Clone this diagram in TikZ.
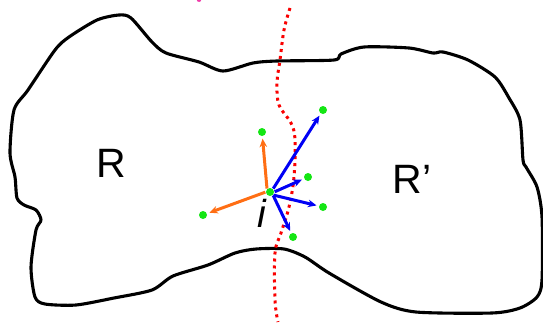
\documentclass[tikz,border=0pt]{standalone}
\usepackage{fontspec}
\setmainfont{Liberation Sans}
\usetikzlibrary{arrows.meta}

\definecolor{dotgreen}{RGB}{20,230,20}
\definecolor{arrorange}{RGB}{255,110,20}
\definecolor{arrblue}{RGB}{0,0,245}
\definecolor{cutred}{RGB}{250,0,0}
\definecolor{markpink}{RGB}{240,60,170}

\tikzset{
  particle/.style={circle, fill=dotgreen, inner sep=0pt, minimum size=8pt},
  region/.style={font=\fontsize{41}{43}\selectfont},
  force/.style={-{Stealth[length=8.5pt, width=7.5pt]}, line width=3pt, shorten <=0.5pt, shorten >=2.5pt},
}

\begin{document}
\begin{tikzpicture}[x=1pt, y=-1pt]

  \useasboundingbox (0,0) rectangle (543,324);

  % Omtrek van het gebied
  \draw[line width=3.1pt, line join=round]
    plot[smooth cycle, tension=0.45] coordinates {
      (119,15) (131,18) (152,42) (166,53) (199,62) (223,71) (253,63)
      (277,61) (334,60) (341,54) (364,47) (409,48) (433,53) (443,52)
      (468,60) (495,77) (509,98) (520,120) (523,160) (526,167) (537,187)
      (542,217) (542,280) (537,297) (520,308) (492,313) (416,312)
      (381,302) (329,273) (305,257) (284,249) (256,249) (235,253)
      (208,265) (173,276) (152,290) (114,298) (76,305) (45,304)
      (35,297) (31,267) (36,230) (41,220) (36,210) (24,205) (17,198)
      (15,177) (10,153) (14,110) (28,90) (55,50) (69,37) (97,20)
    };

  % Scheidingslijn
  \draw[cutred, line width=3pt, dash pattern=on 3pt off 4pt]
    plot[smooth, tension=0.6] coordinates {
      (290,8) (284,30) (280,60) (277,83) (279,105) (291,123) (295,140)
      (294,177) (289,207) (281,233) (275,253) (275,300) (278,322)
    };

  % Restje bovenaan
  \fill[markpink] (199,-1) ellipse (2.5pt and 3pt);

  % Labels
  \node[region] (R) at (111,163) {R};
  \node[region] (Rp) at (412,179) {R’};
  \node[region, font=\fontsize{39}{41}\selectfont\itshape] (lbl) at (262,213) {i};

  % Deeltjes
  \node[particle] (i) at (270,192) {};
  \node[particle] (o1) at (262,132) {};
  \node[particle] (o2) at (203,215) {};
  \node[particle] (b1) at (323,110) {};
  \node[particle] (b2) at (308,177) {};
  \node[particle] (b3) at (323,207) {};
  \node[particle] (b4) at (293,237) {};

  % Krachten binnen R
  \draw[force, arrorange] (i.north west) -- (o1);
  \draw[force, arrorange] (i.west) -- (o2);

  % Krachten over de grens
  \draw[force, arrblue] (i.north east) -- (b1);
  \draw[force, arrblue] (i.east) -- (b2);
  \draw[force, arrblue] (i.south east) -- (b3);
  \draw[force, arrblue] (i.south east) -- (b4);

\end{tikzpicture}
\end{document}
